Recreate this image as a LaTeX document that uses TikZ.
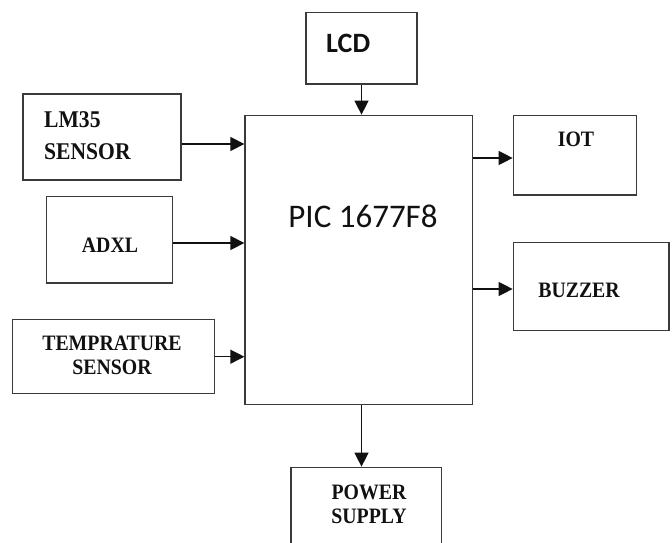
\documentclass[tikz,border=0pt]{standalone}
\usepackage{fontspec}
\usetikzlibrary{arrows.meta,positioning,calc}
\usepackage{xcolor}
\newfontfamily\blockfont{Liberation Serif}[FakeStretch=0.9]
\newfontfamily\chipfont{Carlito}
\definecolor{Ink}{HTML}{111111}
\definecolor{Frame}{HTML}{3A3A3A}

\begin{document}
\begin{tikzpicture}[x=1pt,y=-1pt,>={Triangle[length=14pt,width=14pt]},
  block/.style={draw=Frame,line width=1.3pt,inner sep=0pt},
  lbl/.style={font=\blockfont\bfseries\fontsize{22}{24}\selectfont,text=Ink,align=center,inner sep=0pt},
  chiplbl/.style={text=Ink,inner sep=0pt},
  link/.style={->,Ink,line width=1.3pt}]
\useasboundingbox (0,0) rectangle (672,543);
\clip (0,0) rectangle (672,543);
% blocks
\node[block,minimum width=111pt,minimum height=71.7pt] (lcd) at (361.5,48.15) {};
\node[block,minimum width=158pt,minimum height=86pt] (lm35) at (102,137) {};
\node[block,minimum width=126pt,minimum height=86.3pt] (adxl) at (109.7,239.85) {};
\node[block,minimum width=202pt,minimum height=74pt] (temp) at (113.3,356.7) {};
\node[block,minimum width=227.7pt,minimum height=289.4pt] (pic) at (358.85,260) {};
\node[block,minimum width=123.4pt,minimum height=79.7pt] (iot) at (575,155.15) {};
\node[block,minimum width=155.7pt,minimum height=88pt] (buzzer) at (591.15,286.7) {};
\node[block,minimum width=150.7pt,minimum height=92.7pt] (power) at (366.35,513.65) {};
% labels
\node[chiplbl,anchor=west,font=\chipfont\bfseries\fontsize{28}{30}\selectfont] (lcdtext) at (326,43) {LCD};
\node[lbl,anchor=west,align=left,font=\blockfont\bfseries\fontsize{24}{32}\selectfont] (lm35text) at (44,136) {LM35\\SENSOR};
\node[lbl] (adxltext) at (110,245) {ADXL};
\node[lbl] (temptext) at (112,355) {TEMPRATURE\\SENSOR};
\node[chiplbl,font=\chipfont\fontsize{33}{36}\selectfont] (pictext) at (363,216) {PIC 1677F8};
\node[lbl] (iottext) at (576,139) {IOT};
\node[lbl] (buzzertext) at (579,290) {BUZZER};
\node[lbl] (powertext) at (369,504) {POWER\\SUPPLY};
% links
\draw[link] (lm35.east |- 0,144) -- (pic.west |- 0,144);
\draw[link] (adxl.east |- 0,243) -- (pic.west |- 0,243);
\draw[link] (temp.east) -- (pic.west |- temp.east);
\draw[link] (lcd.south) -- (pic.north -| lcd.south);
\draw[link] (pic.east |- 0,158) -- (iot.west |- 0,158);
\draw[link] (pic.east |- 0,289) -- (buzzer.west |- 0,289);
\draw[link] (pic.south -| lcd.south) -- (power.north -| lcd.south);
\end{tikzpicture}
\end{document}
